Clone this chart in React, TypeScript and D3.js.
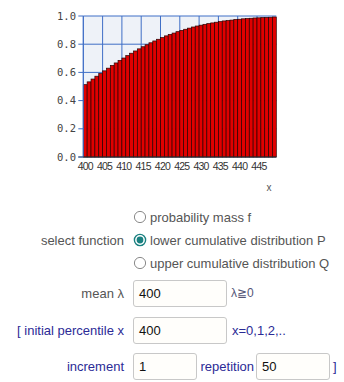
import React from "react";
import * as d3 from "d3";

const xValues: number[] = d3.range(400, 450);
const cdfValues: number[] = [
  0.513, 0.533, 0.553, 0.573, 0.592, 0.611, 0.63, 0.649, 0.667, 0.685,
  0.702, 0.719, 0.736, 0.752, 0.767, 0.782, 0.796, 0.81, 0.823, 0.835,
  0.847, 0.859, 0.869, 0.879, 0.889, 0.898, 0.906, 0.914, 0.922, 0.929,
  0.935, 0.941, 0.946, 0.951, 0.956, 0.96, 0.965, 0.968, 0.971, 0.975,
  0.977, 0.98, 0.982, 0.984, 0.986, 0.987, 0.989, 0.99, 0.991, 0.993,
];
const yTicks: number[] = [0, 0.2, 0.4, 0.6, 0.8, 1.0];
const xTickLabels: number[] = [400, 405, 410, 415, 420, 425, 430, 435, 440, 445];
const radioOptions: string[] = [
  "probability mass f",
  "lower cumulative distribution P",
  "upper cumulative distribution Q",
];
const selectedOption = 1;
const meanValue = "400";
const initialX = "400";
const incrementValue = "1";
const repetitionValue = "50";

export default function App() {
  const left = 83.3;
  const right = 276.3;
  const top = 16;
  const bottom = 157;
  const x = d3
    .scaleBand<number>()
    .domain(xValues)
    .range([left, right])
    .paddingInner(0)
    .paddingOuter(0);
  const y = d3.scaleLinear().domain([0, 1]).range([bottom, top]);
  const bw = x.bandwidth();

  const grayText = "#555";
  const blueText = "#2b2b96";
  const font = "Arial, 'Liberation Sans', sans-serif";

  const radioY = [217, 240, 263];

  return (
    <svg
      width={344}
      height={382}
      style={{ position: "fixed", left: 0, top: 0, background: "#fff" }}
      fontFamily={font}
    >
      <rect x={left} y={top} width={right - left} height={bottom - top} fill="#eef2f8" />
      {xTickLabels.map((v) => (
        <line
          key={"vg" + v}
          x1={x(v)!}
          x2={x(v)!}
          y1={top}
          y2={bottom}
          stroke="#3f6fc6"
          strokeWidth={1}
        />
      ))}
      {yTicks.map((t) => (
        <line
          key={"hg" + t}
          x1={left}
          x2={right}
          y1={y(t)}
          y2={y(t)}
          stroke="#3f6fc6"
          strokeWidth={1}
        />
      ))}
      {xValues.map((v, i) => (
        <rect
          key={"b" + v}
          x={x(v)!}
          y={y(cdfValues[i])}
          width={bw}
          height={bottom - y(cdfValues[i])}
          fill="#e00000"
          stroke="#2a0000"
          strokeWidth={0.7}
        />
      ))}
      <line x1={left} x2={left} y1={top} y2={bottom} stroke="#3f6fc6" strokeWidth={1} />
      <line x1={left - 5} x2={right} y1={bottom} y2={bottom} stroke="#333" strokeWidth={1} />
      {yTicks.map((t) => (
        <g key={"yt" + t}>
          <line x1={left - 5} x2={left} y1={y(t)} y2={y(t)} stroke="#3f6fc6" strokeWidth={1} />
          <text
            x={76}
            y={y(t)}
            dy="0.35em"
            textAnchor="end"
            fontFamily="'DejaVu Sans Mono', monospace"
            fontSize={10.5}
            fill="#444"
          >
            {t.toFixed(1)}
          </text>
        </g>
      ))}
      {xTickLabels.map((v) => (
        <text
          key={"xt" + v}
          x={x(v)! + bw / 2}
          y={bottom + 13}
          textAnchor="middle"
          fontSize={10.5}
          letterSpacing={-0.8}
          fill="#333"
        >
          {v}
        </text>
      ))}
      <text x={269} y={191} fontSize={10} fill="#555" textAnchor="middle">
        x
      </text>

      <text x={124} y={radioY[1]} dy="0.35em" textAnchor="end" fontSize={13} fill={grayText}>
        select function
      </text>
      {radioOptions.map((label, i) => (
        <g key={"r" + i}>
          {i === selectedOption ? (
            <>
              <circle cx={140} cy={radioY[i]} r={5.6} fill="#fff" stroke="#1a8080" strokeWidth={1.4} />
              <circle cx={140} cy={radioY[i]} r={3.4} fill="#1a8080" />
            </>
          ) : (
            <circle cx={140} cy={radioY[i]} r={5.6} fill="#fff" stroke="#8a8a8a" strokeWidth={1} />
          )}
          <text x={150} y={radioY[i]} dy="0.35em" fontSize={13} fill={grayText}>
            {label}
          </text>
        </g>
      ))}

      <text x={124} y={293} dy="0.35em" textAnchor="end" fontSize={13} fill={grayText}>
        mean λ
      </text>
      <rect x={133.5} y={280.5} width={93} height={26} rx={2.5} fill="#fffefb" stroke="#c8c8c8" />
      <text x={139} y={293} dy="0.35em" fontSize={13} fill="#111">
        {meanValue}
      </text>
      <text x={231} y={293} dy="0.35em" fontSize={12} fill="#555577">
        λ≧0
      </text>

      <text x={124} y={330} dy="0.35em" textAnchor="end" fontSize={13} fill={blueText}>
        [ initial percentile x
      </text>
      <rect x={133.5} y={317.5} width={93} height={26} rx={2.5} fill="#fffefb" stroke="#c8c8c8" />
      <text x={139} y={330} dy="0.35em" fontSize={13} fill="#111">
        {initialX}
      </text>
      <text x={232} y={330} dy="0.35em" fontSize={13} fill={blueText}>
        x=0,1,2,..
      </text>

      <text x={124} y={366} dy="0.35em" textAnchor="end" fontSize={13} fill={blueText}>
        increment
      </text>
      <rect x={133.5} y={353.5} width={63} height={26} rx={2.5} fill="#fffefb" stroke="#c8c8c8" />
      <text x={139} y={366} dy="0.35em" fontSize={13} fill="#111">
        {incrementValue}
      </text>
      <text x={254} y={366} dy="0.35em" textAnchor="end" fontSize={13} fill={blueText}>
        repetition
      </text>
      <rect x={256.5} y={353.5} width={73} height={26} rx={2.5} fill="#fffefb" stroke="#c8c8c8" />
      <text x={262} y={366} dy="0.35em" fontSize={13} fill="#111">
        {repetitionValue}
      </text>
      <text x={333} y={366} dy="0.35em" fontSize={13} fill={blueText}>
        ]
      </text>
    </svg>
  );
}
